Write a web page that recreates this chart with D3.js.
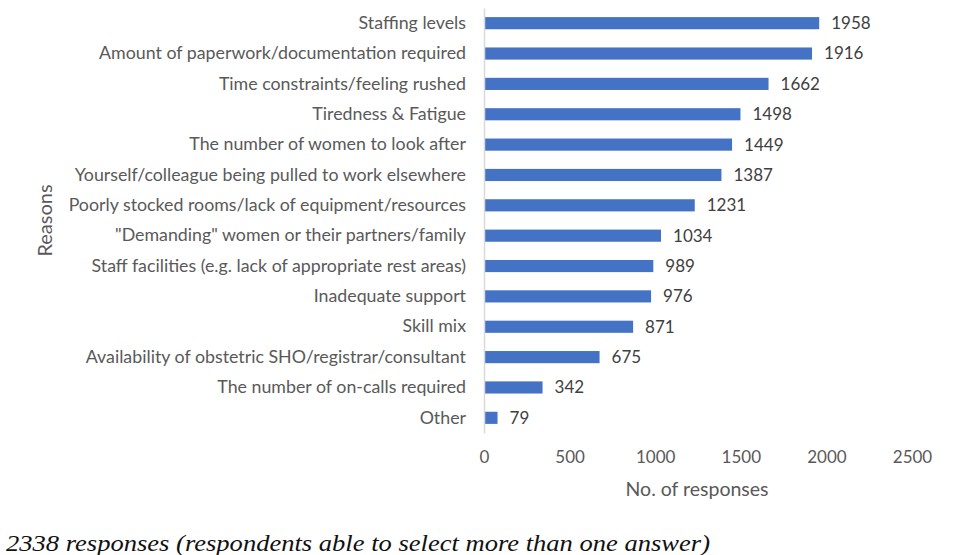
<!DOCTYPE html>
<html>
<head>
<meta charset="utf-8">
<script src="https://cdn.jsdelivr.net/npm/d3@7"></script>
<style>
  body { margin: 0; background: #fff; }
  text { font-family: Lato, "Open Sans", sans-serif; }
</style>
</head>
<body>
<script>
// data
var reasons = ["Staffing levels", "Amount of paperwork/documentation required", "Time constraints/feeling rushed",
  "Tiredness & Fatigue", "The number of women to look after", "Yourself/colleague being pulled to work elsewhere",
  "Poorly stocked rooms/lack of equipment/resources", "\"Demanding\" women or their partners/family",
  "Staff facilities (e.g. lack of appropriate rest areas)", "Inadequate support", "Skill mix",
  "Availability of obstetric SHO/registrar/consultant", "The number of on-calls required", "Other"]
var responses = [1958, 1916, 1662, 1498, 1449, 1387, 1231, 1034, 989, 976, 871, 675, 342, 79]
var xTicks = [0, 500, 1000, 1500, 2000, 2500]

var svg = d3.select("body").append("svg")
  .attr("width", 961)
  .attr("height", 555)

var x0 = 484, x1 = 912
var yTop = 8, yBot = 433

var xScale = d3.scaleLinear().domain([0, 2500]).range([x0, x1])
var yScale = d3.scaleBand().domain(reasons).range([yTop, yBot]).paddingInner(0.6).paddingOuter(0.3)

var grey = "#595959"

// bars
svg.selectAll("rect.bars")
  .data(responses)
  .enter()
  .append("rect")
  .attr("class", "bars")
  .attr("x", xScale(0))
  .attr("y", function(d, i){ return yScale(reasons[i]) })
  .attr("width", function(d){ return xScale(d) - xScale(0) })
  .attr("height", yScale.bandwidth())
  .attr("fill", "#4472C4")

// value labels
svg.selectAll("text.val")
  .data(responses)
  .enter()
  .append("text")
  .attr("class", "val")
  .attr("x", function(d){ return xScale(d) + 12 })
  .attr("y", function(d, i){ return yScale(reasons[i]) + yScale.bandwidth()/2 })
  .attr("dy", "0.35em")
  .attr("font-size", "17px")
  .attr("fill", "#404040")
  .text(function(d){ return d })

// y axis
var yAxis = d3.axisLeft(yScale).tickSize(0).tickPadding(18)
var gy = svg.append("g")
  .attr("transform", "translate(" + x0 + ",0)")
  .call(yAxis)
gy.select(".domain").attr("stroke", "#D9D9D9").attr("stroke-width", 1.5)
gy.selectAll("text").attr("font-size", "17.8px").attr("fill", grey).style("font-family", "Lato, sans-serif")

// x axis (labels only)
var xAxis = d3.axisBottom(xScale).tickValues(xTicks).tickFormat(d3.format("d")).tickSize(0).tickPadding(0)
var gx = svg.append("g")
  .attr("transform", "translate(0,451)")
  .call(xAxis)
gx.select(".domain").remove()
gx.selectAll("text").attr("font-size", "17px").attr("fill", grey).style("font-family", "Lato, sans-serif")

// axis titles
svg.append("text")
  .attr("x", (x0 + x1)/2 - 1)
  .attr("y", 496)
  .attr("text-anchor", "middle")
  .attr("font-size", "19.5px")
  .attr("fill", grey)
  .text("No. of responses")

svg.append("text")
  .attr("transform", "translate(52," + (yTop + yBot)/2 + ") rotate(-90)")
  .attr("text-anchor", "middle")
  .attr("font-size", "20px")
  .attr("fill", grey)
  .text("Reasons")

// footnote
svg.append("text")
  .attr("x", 6)
  .attr("y", 551)
  .attr("font-size", "24px")
  .attr("font-style", "italic")
  .attr("fill", "#111")
  .attr("textLength", 704)
  .attr("lengthAdjust", "spacingAndGlyphs")
  .style("font-family", "'Liberation Serif', serif")
  .text("2338 responses (respondents able to select more than one answer)")
</script>
</body>
</html>
